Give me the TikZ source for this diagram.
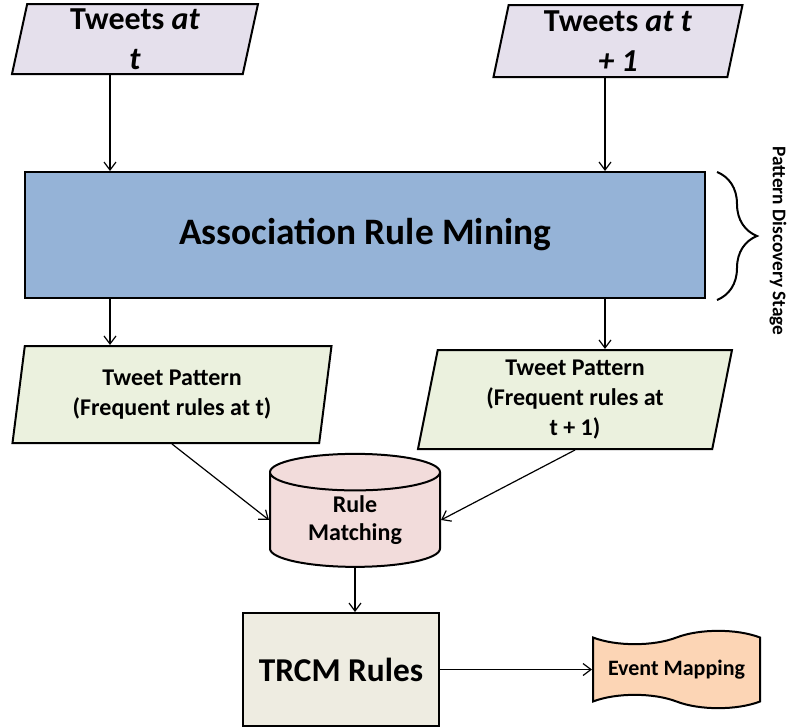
\documentclass[tikz,border=0pt]{standalone}
\usepackage{fontspec}
\setmainfont{Carlito}
\usetikzlibrary{shapes.geometric,shapes.symbols,arrows.meta,decorations.pathreplacing}

\definecolor{tweetfill}{HTML}{E5E0EC}
\definecolor{armfill}{HTML}{95B3D7}
\definecolor{patfill}{HTML}{EBF1DE}
\definecolor{rmfill}{HTML}{F2DCDB}
\definecolor{trcmfill}{HTML}{EEECE1}
\definecolor{emfill}{HTML}{FCD5B5}

\tikzset{every picture/.style={line width=0.75pt}}
\tikzset{
  box/.style={draw=black, line width=1.5pt, align=center, font=\bfseries, inner sep=0pt},
  para/.style={box, trapezium, trapezium left angle=76, trapezium right angle=104, trapezium stretches body},
  arr/.style={-{Straight Barb[length=6pt,width=9pt]}, line width=0.9pt},
}

\begin{document}
\begin{tikzpicture}[x=0.75pt,y=0.75pt,yscale=-1,xscale=1]
        \useasboundingbox (0,0) rectangle (790,728);

        %Shape: Parallelogram (input t)
        \node (tweetsT) [para, fill=tweetfill, minimum width=184.5pt, minimum height=52.5pt,
              font=\fontsize{24}{30}\selectfont\bfseries] at (135,39) {Tweets \textit{at}\\ \textit{t}};
        %Shape: Parallelogram (input t+1)
        \node (tweetsT1) [para, fill=tweetfill, minimum width=186.75pt, minimum height=54pt,
              font=\fontsize{24}{30}\selectfont\bfseries] at (618,41) {Tweets \textit{at t}\\ \textit{+ 1}};
        %Shape: Rectangle
        \node (arm) [box, rectangle, fill=armfill, minimum width=510pt, minimum height=94.5pt,
              font=\fontsize{28}{34}\selectfont\bfseries] at (365,235) {Association Rule Mining};
        %Shape: Brace
        \draw [decorate, decoration={brace, amplitude=30pt}, line width=1.5pt] (717,172) -- (717,300) ;
        % Text Node
        \node (pds) [rotate=-90, font=\fontsize{14.5}{17}\selectfont\bfseries] at (778,241) {Pattern Discovery Stage};
        %Shape: Parallelogram (pattern t)
        \node (tpL) [para, fill=patfill, minimum width=239.25pt, minimum height=72.75pt,
              font=\fontsize{18}{22.5}\selectfont\bfseries] at (172,394.5) {Tweet Pattern\\(Frequent rules at t)};
        %Shape: Parallelogram (pattern t+1)
        \node (tpR) [para, fill=patfill, minimum width=235.5pt, minimum height=74.25pt,
              font=\fontsize{18}{22.5}\selectfont\bfseries] at (575,399.5) {Tweet Pattern\\(Frequent rules at\\t + 1)};
        %Shape: Can
        \node (rm) [box, cylinder, shape border rotate=90, aspect=0.39, fill=rmfill,
              minimum width=127.5pt, minimum height=84.75pt,
              font=\fontsize{18}{21}\selectfont\bfseries] at (355,520) {Rule\\Matching};
        %Shape: Rectangle
        \node (trcm) [box, rectangle, fill=trcmfill, minimum width=147pt, minimum height=84.75pt,
              font=\fontsize{25}{30}\selectfont\bfseries] at (341,669.5) {TRCM Rules};
        %Shape: Wave
        \node (em) [box, tape, tape bend top=in and out, tape bend bottom=out and in, tape bend height=10pt,
              fill=emfill, minimum width=125.25pt, minimum height=58pt,
              font=\fontsize{16.5}{20}\selectfont\bfseries] at (676.5,669.5) {Event Mapping};

        \coordinate (colL) at (110,0);
        \coordinate (colR) at (605,0);
        %Straight Lines
        \draw [arr] (tweetsT.south -| colL) -- (arm.north -| colL) ;
        \draw [arr] (tweetsT1.south -| colR) -- (arm.north -| colR) ;
        \draw [arr] (arm.south -| colL) -- (tpL.north -| colL) ;
        \draw [arr] (arm.south -| colR) -- (tpR.north -| colR) ;
        \draw [arr] (tpL.south) -- (rm.west) ;
        \draw [arr] (tpR.south) -- (rm.east) ;
        \draw [arr] (rm.south) -- (rm.south |- trcm.north) ;
        \draw [arr] (trcm.east) -- (em.west) ;
\end{tikzpicture}
\end{document}
